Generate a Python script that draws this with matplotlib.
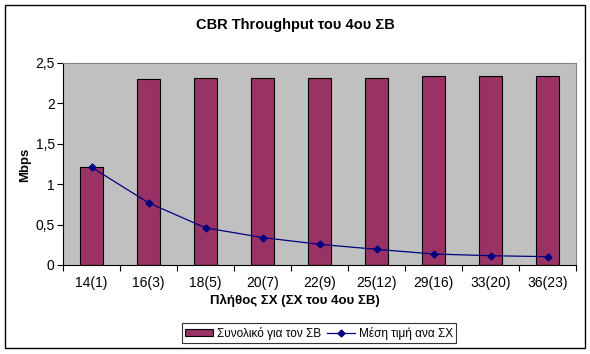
import matplotlib
matplotlib.use("Agg")
import matplotlib.pyplot as plt
from matplotlib.patches import Rectangle
from matplotlib.ticker import FuncFormatter, FixedLocator
import numpy as np

plt.rcParams['font.family'] = ['Liberation Sans', 'DejaVu Sans']

categories = ["14(1)", "16(3)", "18(5)", "20(7)", "22(9)", "25(12)", "29(16)", "33(20)", "36(23)"]
total_bs = [1.21, 2.30, 2.31, 2.31, 2.32, 2.32, 2.335, 2.335, 2.335]
mean_per_ms = [1.21, 0.77, 0.46, 0.34, 0.256, 0.194, 0.136, 0.115, 0.103]

title = "CBR Throughput του 4ου ΣΒ"
xlabel = "Πλήθος ΣΧ (ΣΧ του 4ου ΣΒ)"
ylabel = "Mbps"
label_bar = "Συνολικό για τον ΣΒ"
label_line = "Μέση τιμή ανα ΣΧ"

fig = plt.figure(figsize=(5.9, 3.54), dpi=100)
fig.patches.append(Rectangle((5/590, 6/354), 580/590, 343/354, transform=fig.transFigure,
                             fill=False, edgecolor='black', linewidth=1.0))

ax = fig.add_axes([63/590, 89/354, 513/590, 202/354])
ax.set_facecolor('#C0C0C0')
x = np.arange(len(categories))
bars = ax.bar(x, total_bs, width=0.39, color='#993366', edgecolor='black', linewidth=0.8,
              label=label_bar, zorder=2)
line, = ax.plot(x, mean_per_ms, color='#000080', linewidth=0.9, marker='D', markersize=3.5,
                markerfacecolor='#000080', markeredgecolor='#000080', label=label_line, zorder=3)

ax.set_xlim(-0.5, len(categories) - 0.5)
ax.set_ylim(0, 2.5)
ax.set_yticks([0, 0.5, 1, 1.5, 2, 2.5])
ax.yaxis.set_major_formatter(FuncFormatter(lambda v, p: ('%g' % v).replace('.', ',')))
ax.set_xticks(x)
ax.set_xticklabels(categories)
ax.xaxis.set_minor_locator(FixedLocator(np.arange(-0.5, len(categories), 1.0)))
ax.tick_params(axis='x', which='major', length=0, pad=8, labelsize=10)
ax.tick_params(axis='x', which='minor', length=4, direction='out', width=0.8)
ax.tick_params(axis='y', length=4, direction='out', width=0.8, labelsize=10, pad=2)

for s in ['top', 'right']:
    ax.spines[s].set_color('#808080')
    ax.spines[s].set_linewidth(0.8)
for s in ['left', 'bottom']:
    ax.spines[s].set_color('black')
    ax.spines[s].set_linewidth(0.8)

fig.text(0.5, 1 - 25/354, title, ha='center', va='center', fontsize=10.5, fontweight='bold')
fig.text(0.5, 1 - 300/354, xlabel, ha='center', va='center', fontsize=9.5, fontweight='bold')
fig.text(25/590, 1 - 165/354, ylabel, ha='center', va='center', fontsize=9.5, fontweight='bold',
         rotation=90)

leg = fig.legend(handles=[bars, line], labels=[label_bar, label_line], loc='center',
                 bbox_to_anchor=(319/590, 1 - 333/354), ncol=2, fontsize=8.5, frameon=True,
                 fancybox=False, shadow=False, handlelength=2.4, handleheight=0.6,
                 columnspacing=0.5, handletextpad=0.3, borderpad=0.3, borderaxespad=0)
leg.get_frame().set_edgecolor('black')
leg.get_frame().set_linewidth(0.8)

fig.savefig('out.png', dpi=100)
